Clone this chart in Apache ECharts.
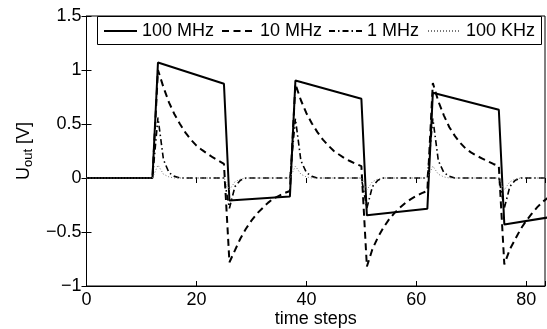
<!DOCTYPE html>
<html>
<head>
<meta charset="utf-8">
<script src="https://cdn.jsdelivr.net/npm/echarts@6/dist/echarts.min.js"></script>
<style>
html,body{margin:0;padding:0;background:#fff;}
#chart{width:547px;height:329px;}
</style>
</head>
<body>
<div id="chart"></div>
<script>
// ---- data ----
const seriesNames = ['100 MHz', '10 MHz', '1 MHz', '100 KHz'];

// 100 MHz: straight segments, vertices only
const t100 = [0, 12, 13, 25, 26, 37, 38, 50, 51, 62, 63, 75, 76, 84];
const v100 = [0, 0, 1.07, 0.873, -0.208, -0.172, 0.903, 0.733, -0.346, -0.285, 0.789, 0.632, -0.43, -0.365];

// time steps 0..84 for the curved series
const steps = [0,1,2,3,4,5,6,7,8,9,10,11,12,13,14,15,16,17,18,19,20,21,22,23,24,25,26,27,28,29,
  30,31,32,33,34,35,36,37,38,39,40,41,42,43,44,45,46,47,48,49,50,51,52,53,54,55,56,57,58,59,
  60,61,62,63,64,65,66,67,68,69,70,71,72,73,74,75,76,77,78,79,80,81,82,83,84];

const v10 = [0,0,0,0,0,0,0,0,0,0,0,0,0,
  1.00,0.84,0.70,0.59,0.50,0.42,0.355,0.30,0.26,0.225,0.19,0.16,0.13,
  -0.78,-0.67,-0.56,-0.47,-0.395,-0.33,-0.28,-0.23,-0.19,-0.165,-0.14,-0.12,
  0.87,0.72,0.60,0.505,0.425,0.355,0.30,0.25,0.215,0.18,0.155,0.13,0.11,
  -0.82,-0.66,-0.55,-0.46,-0.385,-0.325,-0.275,-0.23,-0.195,-0.165,-0.14,-0.12,
  0.88,0.71,0.58,0.47,0.39,0.325,0.27,0.235,0.205,0.18,0.155,0.13,0.11,
  -0.80,-0.66,-0.565,-0.47,-0.395,-0.33,-0.27,-0.22,-0.18];

const v1 = [0,0,0,0,0,0,0,0,0,0,0,0,0,
  0.56,0.17,0.05,0.015,0,0,0,0,0,0,0,0,0,
  -0.28,-0.08,-0.02,0,0,0,0,0,0,0,0,0,
  0.55,0.16,0.05,0.015,0,0,0,0,0,0,0,0,0,
  -0.28,-0.08,-0.02,0,0,0,0,0,0,0,0,0,
  0.55,0.16,0.05,0.015,0,0,0,0,0,0,0,0,0,
  -0.28,-0.08,-0.02,0,0,0,0,0,0];

const v01 = [0,0,0,0,0,0,0,0,0,0,0,0,0,
  0.12,0.035,0.01,0,0,0,0,0,0,0,0,0,0,
  -0.11,-0.035,-0.01,0,0,0,0,0,0,0,0,0,
  0.11,0.035,0.01,0,0,0,0,0,0,0,0,0,0,
  -0.11,-0.035,-0.01,0,0,0,0,0,0,0,0,0,
  0.11,0.035,0.01,0,0,0,0,0,0,0,0,0,0,
  -0.11,-0.035,-0.01,0,0,0,0,0,0];

const xTicks = [0, 20, 40, 60, 80];
const yTicks = [-1, -0.5, 0, 0.5, 1, 1.5];

// ---- chart ----
const FONT = 'Liberation Sans, Arial, Helvetica, sans-serif';
const pair = (ts, vs) => ts.map((t, i) => [t, vs[i]]);

const chart = echarts.init(document.getElementById('chart'), null, {renderer: 'canvas'});

const legendBase = {
  orient: 'horizontal', top: 22, padding: 0, itemWidth: 33, itemHeight: 14, itemGap: 0,
  textStyle: {fontFamily: FONT, fontSize: 18, color: '#000'},
  itemStyle: {opacity: 0},
  selectedMode: false, z: 10
};

const option = {
  animation: false,
  backgroundColor: '#fff',
  grid: {left: 86.5, right: 2, top: 16, bottom: 43, containLabel: false, outerBoundsMode: 'none',
    show: true, borderColor: '#000', borderWidth: 1, backgroundColor: 'transparent'},
  xAxis: [{
    type: 'value', min: 0, max: 83.4, interval: 20,
    name: 'time steps', nameLocation: 'middle', nameGap: 24, nameMoveOverlap: false,
    nameTextStyle: {fontFamily: FONT, fontSize: 18, color: '#000'},
    axisLine: {show: true, onZero: false, lineStyle: {color: '#000', width: 1}},
    axisTick: {show: true, inside: true, length: 5, lineStyle: {color: '#000'}},
    splitLine: {show: false},
    axisLabel: {fontFamily: FONT, fontSize: 18, color: '#000', margin: 5,
      formatter: v => (xTicks.indexOf(v) >= 0 ? String(v) : '')}
  }, {
    type: 'value', position: 'top', min: 0, max: 83.4, interval: 20,
    axisLine: {show: false}, axisTick: {show: true, inside: true, length: 5, lineStyle: {color: '#000'}},
    axisLabel: {show: false}, splitLine: {show: false}
  }],
  yAxis: [{
    type: 'value', min: -1, max: 1.5, interval: 0.5,
    name: 'U{sub|out} [V]', nameLocation: 'middle', nameGap: 52, nameMoveOverlap: false,
    nameTextStyle: {fontFamily: FONT, fontSize: 18, color: '#000',
      rich: {sub: {fontFamily: FONT, fontSize: 13, color: '#000', verticalAlign: 'bottom', padding: [8, 0, 0, 0]}}},
    axisLine: {show: true, onZero: false, lineStyle: {color: '#000', width: 1}},
    axisTick: {show: true, inside: true, length: 5, lineStyle: {color: '#000'}},
    splitLine: {show: false},
    axisLabel: {fontFamily: FONT, fontSize: 18, color: '#000', margin: 5,
      formatter: v => (yTicks.indexOf(v) >= 0 ? String(v).replace('-', '\u2212') : '')}
  }, {
    type: 'value', position: 'right', min: -1, max: 1.5, interval: 0.5,
    axisLine: {show: false}, axisTick: {show: true, inside: true, length: 5, lineStyle: {color: '#000'}},
    axisLabel: {show: false}, splitLine: {show: false}
  }],
  legend: [
    Object.assign({}, legendBase, {left: 103, data: [seriesNames[0]]}),
    Object.assign({}, legendBase, {left: 221, data: [seriesNames[1]]}),
    Object.assign({}, legendBase, {left: 328, data: [seriesNames[2]]}),
    Object.assign({}, legendBase, {left: 427, data: [seriesNames[3]]})
  ],
  graphic: [{
    type: 'rect', z: 5, silent: true,
    shape: {x: 97.5, y: 16.5, width: 444, height: 28},
    style: {fill: '#fff', stroke: '#000', lineWidth: 1}
  }],
  series: [
    {name: seriesNames[0], type: 'line', data: pair(t100, v100), symbol: 'none', showSymbol: false,
      lineStyle: {color: '#000', width: 2, type: 'solid'}, itemStyle: {color: '#000'}, z: 2},
    {name: seriesNames[1], type: 'line', data: pair(steps, v10), symbol: 'none', showSymbol: false,
      lineStyle: {color: '#000', width: 2, type: [7, 4.5]}, itemStyle: {color: '#000'}, z: 2},
    {name: seriesNames[2], type: 'line', data: pair(steps, v1), symbol: 'none', showSymbol: false,
      lineStyle: {color: '#000', width: 1.6, type: [6, 3, 1.5, 3]}, itemStyle: {color: '#000'}, z: 2},
    {name: seriesNames[3], type: 'line', data: pair(steps, v01), symbol: 'none', showSymbol: false,
      lineStyle: {color: '#777', width: 1, type: [1, 2]}, itemStyle: {color: '#777'}, z: 2}
  ]
};
chart.setOption(option);
</script>
</body>
</html>
